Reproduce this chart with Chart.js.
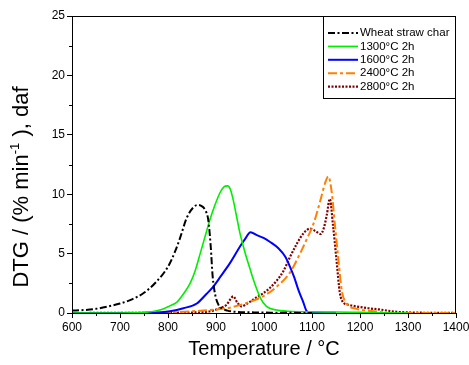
<!DOCTYPE html>
<html>
<head>
<meta charset="utf-8">
<script src="https://cdn.jsdelivr.net/npm/chart.js@4.4.1/dist/chart.umd.min.js"></script>
<style>
  html, body { margin: 0; padding: 0; background: #fff; }
  #wrap { width: 469px; height: 365px; }
</style>
</head>
<body>
<div id="wrap"><canvas id="dtg"></canvas></div>
<script>
// values (temperature in °C, DTG in %/min daf)
const wheatT   = [600, 625, 650, 675, 700, 725, 750, 775, 800, 815, 825, 839, 853, 863, 870, 877, 884, 889, 893, 898, 905, 912, 924, 940, 980, 1050, 1100];
const wheatDTG = [0.2, 0.25, 0.35, 0.55, 0.8, 1.15, 1.7, 2.6, 3.9, 5.2, 6.3, 8.0, 8.9, 9.1, 9.0, 8.7, 7.8, 5.6, 3.1, 1.6, 0.7, 0.4, 0.2, 0.1, 0.05, 0.02, 0];

const c1300T   = [600, 700, 750, 783, 804, 818, 832, 846, 857, 867, 877, 887, 897, 908, 916, 924, 930, 936, 943, 950, 957, 964, 971, 978, 985, 992, 1005, 1026, 1050, 1100, 1150, 1200, 1250, 1300];
const c1300DTG = [0, 0, 0.05, 0.25, 0.6, 0.9, 1.6, 2.5, 3.6, 5.0, 6.4, 7.8, 9.0, 10.1, 10.6, 10.7, 10.4, 9.5, 8.1, 6.7, 5.6, 4.6, 3.7, 2.8, 2.0, 1.3, 0.55, 0.25, 0.15, 0.1, 0.08, 0.05, 0.02, 0];

const c1600T   = [600, 700, 780, 804, 832, 860, 880, 894, 910, 929, 950, 960, 972, 985, 1000, 1012, 1030, 1045, 1054, 1063, 1072, 1081, 1089, 1095, 1100, 1140, 1150];
const c1600DTG = [0, 0, 0.05, 0.15, 0.4, 0.8, 1.6, 2.2, 3.1, 4.2, 5.6, 6.2, 6.8, 6.55, 6.3, 6.0, 5.45, 4.7, 3.9, 3.0, 1.9, 1.0, 0.15, 0.05, 0.03, 0.03, 0];

const c2400T   = [600, 800, 853, 900, 929, 964, 998, 1026, 1054, 1075, 1090, 1103, 1117, 1127, 1134, 1141, 1148, 1155, 1162, 1172, 1193, 1214, 1240, 1260, 1400];
const c2400DTG = [0, 0.05, 0.15, 0.3, 0.45, 0.85, 1.4, 2.2, 3.4, 5.0, 6.3, 7.5, 9.4, 10.9, 11.5, 10.2, 7.3, 4.5, 1.9, 0.8, 0.35, 0.2, 0.1, 0, 0];

const c2800T   = [600, 800, 880, 908, 922, 929, 936, 944, 953, 965, 978, 998, 1012, 1026, 1040, 1054, 1068, 1082, 1096, 1107, 1118, 1125, 1131, 1137, 1144, 1151, 1158, 1165, 1175, 1193, 1217, 1240, 1276, 1300, 1400];
const c2800DTG = [0, 0.02, 0.1, 0.4, 0.7, 1.1, 1.4, 0.9, 0.55, 0.8, 1.15, 1.65, 2.1, 2.7, 3.5, 4.7, 5.8, 6.7, 7.1, 6.9, 6.65, 7.2, 8.3, 9.6, 7.3, 4.5, 1.7, 0.9, 0.7, 0.55, 0.4, 0.3, 0.1, 0.05, 0];

const seriesLabels = ["Wheat straw char", "1300°C 2h", "1600°C 2h", "2400°C 2h", "2800°C 2h"];
const seriesColours = ["#000000", "#00ee00", "#0000ff", "#ff8000", "#800000"];
const seriesDash = [[7, 2.5, 2, 2.5], [], [], [9, 3, 3, 3], [2, 1.5]];
const seriesWidth = [2, 1.6, 2, 2, 2.2];

const xMin = 600, xMax = 1400, xStep = 100;
const yMin = 0, yMax = 25, yStep = 5;

const FONT = "'Liberation Sans', Arial, Helvetica, sans-serif";

function toPoints(ts, vs) {
  return ts.map((t, i) => ({ x: t, y: vs[i] }));
}

const allSeries = [
  toPoints(wheatT, wheatDTG),
  toPoints(c1300T, c1300DTG),
  toPoints(c1600T, c1600DTG),
  toPoints(c2400T, c2400DTG),
  toPoints(c2800T, c2800DTG)
];

const datasets = allSeries.map((pts, i) => ({
  label: seriesLabels[i],
  data: pts,
  borderColor: seriesColours[i],
  backgroundColor: seriesColours[i],
  borderWidth: seriesWidth[i],
  borderDash: seriesDash[i],
  pointRadius: 0,
  fill: false,
  cubicInterpolationMode: "monotone"
}));

// frame, minor ticks, y title with superscript and the boxed legend
const decor = {
  id: "decor",
  afterDraw(chart) {
    const { ctx, chartArea: a, scales: { x, y } } = chart;
    ctx.save();
    ctx.strokeStyle = "#000";
    ctx.lineWidth = 1;
    ctx.setLineDash([]);
    ctx.strokeRect(Math.round(a.left) + 0.5, Math.round(a.top) + 0.5, Math.round(a.width) - 1, Math.round(a.height));

    // minor ticks
    ctx.beginPath();
    for (let v = xMin + xStep / 2; v < xMax; v += xStep) {
      const px = Math.round(x.getPixelForValue(v)) + 0.5;
      ctx.moveTo(px, a.bottom);
      ctx.lineTo(px, a.bottom + 3);
    }
    for (let v = yMin + yStep / 2; v < yMax; v += yStep) {
      const py = Math.round(y.getPixelForValue(v)) + 0.5;
      ctx.moveTo(a.left, py);
      ctx.lineTo(a.left - 3, py);
    }
    ctx.stroke();

    // y title: DTG / (% min^-1), daf
    ctx.save();
    ctx.translate(22, 187);
    ctx.rotate(-Math.PI / 2);
    ctx.fillStyle = "#000";
    ctx.textBaseline = "middle";
    ctx.textAlign = "left";
    const big = "22px " + FONT, small = "13px " + FONT;
    const parts = [["DTG / (% min", big, 0], ["-1", small, -7], [" ), daf", big, 0]];
    let total = 0;
    parts.forEach(p => { ctx.font = p[1]; total += ctx.measureText(p[0]).width; });
    let cx = -total / 2;
    parts.forEach(p => {
      ctx.font = p[1];
      ctx.fillText(p[0], cx, p[2]);
      cx += ctx.measureText(p[0]).width;
    });
    ctx.restore();

    // legend
    const bx = 323, by = Math.round(a.top), bw = Math.round(a.right) - bx, bh = 82;
    ctx.fillStyle = "#fff";
    ctx.fillRect(bx, by, bw, bh);
    ctx.strokeRect(bx + 0.5, by + 0.5, bw - 1, bh);
    ctx.font = "11.5px " + FONT;
    ctx.textBaseline = "middle";
    ctx.textAlign = "left";
    chart.data.datasets.forEach((ds, i) => {
      const ly = by + 17 + i * 13.4;
      ctx.beginPath();
      ctx.strokeStyle = ds.borderColor;
      ctx.lineWidth = ds.borderWidth;
      ctx.setLineDash(ds.borderDash);
      ctx.moveTo(328, ly);
      ctx.lineTo(358, ly);
      ctx.stroke();
      ctx.setLineDash([]);
      ctx.fillStyle = "#000";
      ctx.fillText(ds.label, 360, ly);
    });
    ctx.restore();
  }
};

new Chart(document.getElementById("dtg"), {
  type: "line",
  data: { datasets },
  options: {
    responsive: true,
    maintainAspectRatio: false,
    animation: false,
    layout: { padding: { top: 16, right: 13, left: 0, bottom: 0 } },
    plugins: {
      legend: { display: false },
      tooltip: { enabled: false }
    },
    scales: {
      x: {
        type: "linear",
        min: xMin,
        max: xMax,
        ticks: { stepSize: xStep, color: "#000", font: { family: FONT, size: 12 }, padding: 2, maxRotation: 0, callback: (v) => String(v) },
        grid: { drawOnChartArea: false, tickLength: 5, color: "#000" },
        border: { color: "#000", width: 1 },
        title: { display: true, text: "Temperature / °C", color: "#000", font: { family: FONT, size: 20 }, padding: { top: 2, bottom: 4 } },
        afterFit: (s) => { s.height = 52; s.paddingLeft = 0; s.paddingRight = 0; }
      },
      y: {
        min: yMin,
        max: yMax,
        ticks: { stepSize: yStep, color: "#000", font: { family: FONT, size: 12 }, padding: 2 },
        grid: { drawOnChartArea: false, tickLength: 5, color: "#000" },
        border: { color: "#000", width: 1 },
        afterFit: (s) => { s.width = 72; }
      }
    }
  },
  plugins: [decor]
});
</script>
</body>
</html>
